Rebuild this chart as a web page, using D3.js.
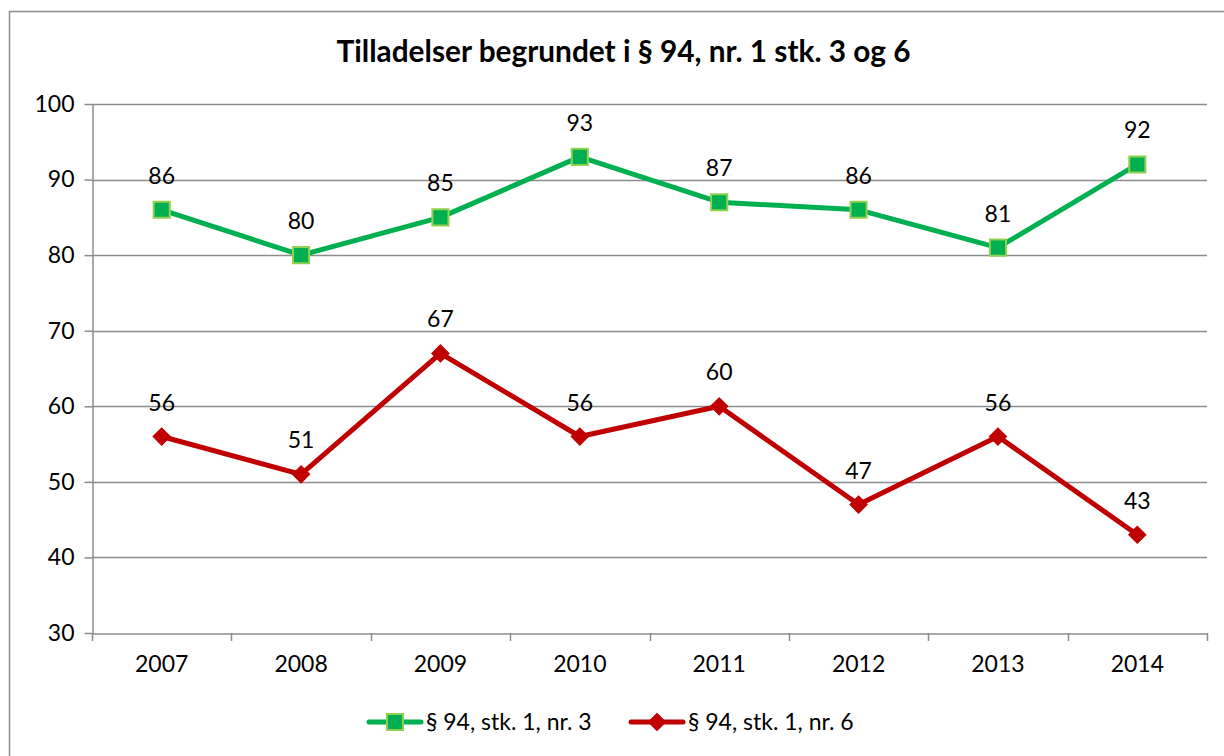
<!DOCTYPE html>
<html><head><meta charset="utf-8">
<script src="https://cdn.jsdelivr.net/npm/d3@7"></script>
<style>body{margin:0;background:#fff}svg{display:block}</style>
</head><body>
<script>
const years = ["2007","2008","2009","2010","2011","2012","2013","2014"];
const seriesNr3 = [86,80,85,93,87,86,81,92];
const seriesNr6 = [56,51,67,56,60,47,56,43];
const seriesNames = ["§ 94, stk. 1, nr. 3","§ 94, stk. 1, nr. 6"];
const yTicks = [30,40,50,60,70,80,90,100];
const title = "Tilladelser begrundet i § 94, nr. 1 stk. 3 og 6";

const W=1224,H=756;
const font="Lato, 'Open Sans', sans-serif";
const svg=d3.select("body").append("svg").attr("width",W).attr("height",H);
svg.append("rect").attr("x",9.5).attr("y",11.5).attr("width",1230).attr("height",760)
  .attr("fill","#fff").attr("stroke","#8c8c8c").attr("stroke-width",1.5);

const L=92,R=1207,T=104,B=633;
const x=d3.scaleBand().domain(years).range([L,R]);
const y=d3.scaleLinear().domain([30,100]).range([B,T]);

svg.append("text").attr("x",623.5).attr("y",62).attr("text-anchor","middle")
  .attr("font-family",font).attr("font-weight","bold").attr("font-size",29.8).text(title);

// gridlines
svg.append("g").selectAll("line").data(yTicks.filter(d=>d>30)).join("line")
  .attr("x1",L).attr("x2",R).attr("y1",d=>Math.round(y(d))+0.5).attr("y2",d=>Math.round(y(d))+0.5)
  .attr("stroke","#8c8c8c").attr("stroke-width",1.5);

const yAx=svg.append("g").attr("transform",`translate(${L+0.5},0)`)
  .call(d3.axisLeft(y).tickValues(yTicks).tickSize(8).tickPadding(10).tickSizeOuter(0));
const xAx=svg.append("g").attr("transform",`translate(0,${B+0.5})`)
  .call(d3.axisBottom(x).tickSize(0).tickPadding(22).tickSizeOuter(0));
// category boundary ticks
const bounds=years.map(d=>x(d)).concat([R]);
svg.append("g").selectAll("line").data(bounds).join("line")
  .attr("x1",d=>Math.round(d)+0.5).attr("x2",d=>Math.round(d)+0.5).attr("y1",B).attr("y2",B+8)
  .attr("stroke","#8c8c8c").attr("stroke-width",1.5);
[yAx,xAx].forEach(g=>{
  g.selectAll(".domain,.tick line").attr("stroke","#8c8c8c").attr("stroke-width",1.5);
  g.selectAll("text").attr("font-family",font).attr("font-size",23).attr("fill","#000");
});

const cx=d=>x(d)+x.bandwidth()/2;
const line=d3.line().x((v,i)=>cx(years[i])).y(v=>y(v));
const green="#00B050", lgreen="#92D050", red="#C00000";

svg.append("path").datum(seriesNr3).attr("d",line).attr("fill","none").attr("stroke",green).attr("stroke-width",5).attr("stroke-linejoin","round");
svg.append("path").datum(seriesNr6).attr("d",line).attr("fill","none").attr("stroke",red).attr("stroke-width",5).attr("stroke-linejoin","round");

const sq=d3.symbol().type(d3.symbolSquare).size(260);
const dia=d3.symbol().type(d3.symbolSquare).size(150);
svg.append("g").selectAll("path").data(seriesNr3).join("path").attr("d",sq)
  .attr("transform",(v,i)=>`translate(${cx(years[i])},${y(v)})`)
  .attr("fill",green).attr("stroke",lgreen).attr("stroke-width",2);
svg.append("g").selectAll("path").data(seriesNr6).join("path").attr("d",dia)
  .attr("transform",(v,i)=>`translate(${cx(years[i])},${y(v)}) rotate(45)`)
  .attr("fill",red).attr("stroke",red).attr("stroke-width",1);

[seriesNr3,seriesNr6].forEach(s=>{
  svg.append("g").selectAll("text").data(s).join("text")
    .attr("x",(v,i)=>cx(years[i])).attr("y",v=>y(v)-26).attr("text-anchor","middle")
    .attr("font-family",font).attr("font-size",23).text(v=>v);
});

// legend
const lg=[{x:369,c:green,s:sq,st:lgreen,sw:2,r:0,n:seriesNames[0]},{x:631,c:red,s:dia,st:red,sw:1,r:45,n:seriesNames[1]}];
const ly=722;
lg.forEach(o=>{
  svg.append("line").attr("x1",o.x).attr("x2",o.x+52).attr("y1",ly).attr("y2",ly)
    .attr("stroke",o.c).attr("stroke-width",5).attr("stroke-linecap","round");
  svg.append("path").attr("d",o.s).attr("transform",`translate(${o.x+26},${ly}) rotate(${o.r})`)
    .attr("fill",o.c).attr("stroke",o.st).attr("stroke-width",o.sw);
  svg.append("text").attr("x",o.x+57).attr("y",ly+8).attr("font-family",font).attr("font-size",23).text(o.n);
});
</script>
</body></html>
